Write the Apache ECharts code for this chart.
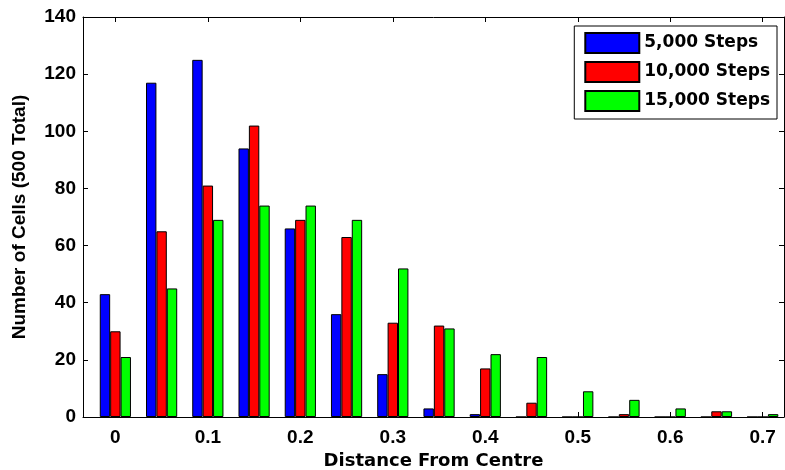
<!DOCTYPE html>
<html>
<head>
<meta charset="utf-8">
<script src="https://cdn.jsdelivr.net/npm/echarts@6/dist/echarts.min.js"></script>
<style>
  html, body { margin: 0; padding: 0; background: #fff; }
  #chart { width: 785px; height: 470px; }
</style>
</head>
<body>
<div id="chart"></div>
<script>
// Bin centres (distance from centre) and cell counts per bin
const distances = [0, 0.05, 0.1, 0.15, 0.2, 0.25, 0.3, 0.35, 0.4, 0.45, 0.5, 0.55, 0.6, 0.65, 0.7];
const steps5000  = [43, 117, 125, 94, 66, 36, 15, 3, 1, 0, 0, 0, 0, 0, 0];
const steps10000 = [30, 65, 81, 102, 69, 63, 33, 32, 17, 5, 0, 1, 0, 2, 0];
const steps15000 = [21, 45, 69, 74, 74, 69, 52, 31, 22, 21, 9, 6, 3, 2, 1];
const seriesNames = ['5,000 Steps', '10,000 Steps', '15,000 Steps'];
const xTicks = [0, 0.1, 0.2, 0.3, 0.4, 0.5, 0.6, 0.7];
const xTickLabels = ['0', '0.1', '0.2', '0.3', '0.4', '0.5', '0.6', '0.7'];

const FONT = '"Liberation Sans", Arial, Helvetica, sans-serif';
const WIDE_FONT = '"DejaVu Sans", Verdana, sans-serif';
const colors = ['#0000ff', '#ff0000', '#00ff00'];

function pairs(vals) {
  return distances.map((d, i) => [d, vals[i]]);
}

function xLabel(v) {
  const i = xTicks.findIndex(t => Math.abs(t - v) < 1e-9);
  return i >= 0 ? xTickLabels[i] : '';
}

const chart = echarts.init(document.getElementById('chart'), null, { renderer: 'canvas' });

const axisLine = { show: true, onZero: false, lineStyle: { color: '#000', width: 1 } };
const tickStyle = { color: '#000', width: 1 };

const option = {
  animation: false,
  backgroundColor: '#fff',
  grid: {
    left: 83, top: 17, width: 701, height: 400,
    containLabel: false, outerBoundsMode: 'none'
  },
  legend: {
    data: seriesNames,
    orient: 'vertical',
    right: 8,
    top: 26,
    backgroundColor: '#fff',
    borderColor: '#000',
    borderWidth: 1,
    padding: [6, 7, 7, 10],
    icon: 'rect',
    itemWidth: 54,
    itemHeight: 20,
    itemGap: 7,
    textStyle: { fontFamily: WIDE_FONT, fontWeight: 'bold', fontSize: 17, color: '#000' }
  },
  xAxis: [
    {
      type: 'value',
      min: -0.035,
      max: 0.723,
      position: 'bottom',
      name: 'Distance From Centre',
      nameLocation: 'middle',
      nameGap: 34,
      nameTextStyle: { fontFamily: WIDE_FONT, fontWeight: 'bold', fontSize: 18, color: '#000' },
      axisLine: axisLine,
      splitLine: { show: false },
      axisTick: { show: true, inside: true, length: 5, lineStyle: tickStyle, customValues: xTicks },
      axisLabel: {
        show: true, margin: 11, customValues: xTicks, formatter: xLabel,
        fontFamily: FONT, fontWeight: 'bold', fontSize: 19, color: '#000'
      }
    },
    {
      type: 'value',
      min: -0.035,
      max: 0.723,
      position: 'top',
      axisLine: axisLine,
      splitLine: { show: false },
      axisTick: { show: true, inside: true, length: 5, lineStyle: tickStyle, customValues: xTicks },
      axisLabel: { show: false }
    }
  ],
  yAxis: [
    {
      type: 'value',
      min: 0,
      max: 140,
      interval: 20,
      position: 'left',
      name: 'Number of Cells (500 Total)',
      nameLocation: 'middle',
      nameGap: 54,
      nameTextStyle: { fontFamily: FONT, fontWeight: 'bold', fontSize: 19, color: '#000' },
      axisLine: axisLine,
      splitLine: { show: false },
      axisTick: { show: true, inside: true, length: 5, lineStyle: tickStyle },
      axisLabel: { margin: 7, fontFamily: FONT, fontWeight: 'bold', fontSize: 19, color: '#000' }
    },
    {
      type: 'value',
      min: 0,
      max: 140,
      interval: 20,
      position: 'right',
      axisLine: axisLine,
      splitLine: { show: false },
      axisTick: { show: true, inside: true, length: 5, lineStyle: tickStyle },
      axisLabel: { show: false }
    }
  ],
  series: [steps5000, steps10000, steps15000].map((vals, k) => ({
    name: seriesNames[k],
    type: 'bar',
    xAxisIndex: 0,
    yAxisIndex: 0,
    data: pairs(vals),
    barWidth: 10.4,
    barGap: '0%',
    itemStyle: { color: colors[k], borderColor: '#000', borderWidth: 1 }
  }))
};

chart.setOption(option);
</script>
</body>
</html>
